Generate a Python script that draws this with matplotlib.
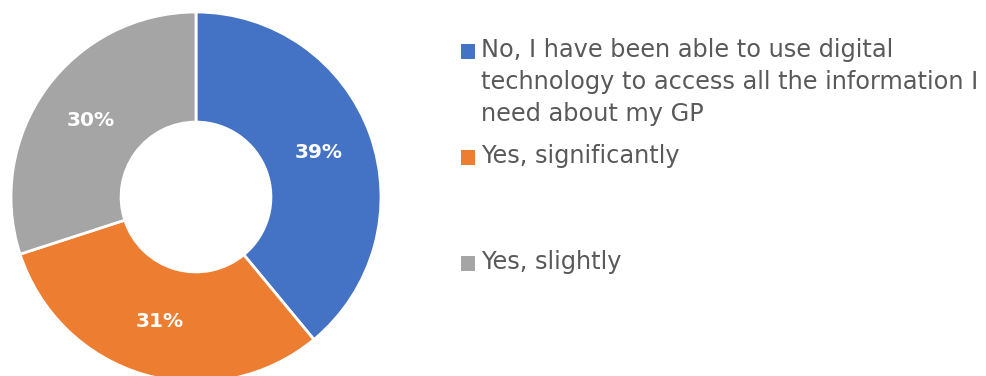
import matplotlib.pyplot as plt
from matplotlib.patches import Rectangle
import numpy as np

answers = ["No, I have been able to use digital\ntechnology to access all the information I\nneed about my GP",
           "Yes, significantly",
           "Yes, slightly"]
shares = [39, 31, 30]
colours = ["#4472C4", "#ED7D31", "#A5A5A5"]

W, H = 987, 376
fig = plt.figure(figsize=(W / 100, H / 100), dpi=100)

# donut: centre (196, 197) px from top-left, outer radius 185 px
cx, cy, r = 196, 197, 185
ax = fig.add_axes([(cx - r) / W, (H - cy - r) / H, 2 * r / W, 2 * r / H])
wedges, _ = ax.pie(shares, colors=colours, startangle=90, counterclock=False,
                   radius=1, wedgeprops=dict(width=0.595, edgecolor="white", linewidth=2))
ax.set_xlim(-1, 1)
ax.set_ylim(-1, 1)
ax.set_aspect("equal")
ax.axis("off")

for w, v in zip(wedges, shares):
    ang = np.deg2rad((w.theta1 + w.theta2) / 2)
    rr = 1 - 0.595 / 2
    ax.text(rr * np.cos(ang), rr * np.sin(ang), f"{v}%", ha="center", va="center",
            color="white", fontsize=14.5, fontweight="bold")

# legend, one entry every 106 px, marker next to first line
text_col = "#595959"
for i, (lab, c) in enumerate(zip(answers, colours)):
    yc = 51 + 106 * i
    fig.patches.append(Rectangle((461 / W, (H - yc - 7.5) / H), 14.5 / W, 14.5 / H,
                                 transform=fig.transFigure, facecolor=c, edgecolor="none"))
    fig.text(481 / W, (H - yc + 13) / H, lab, ha="left", va="top", color=text_col,
             fontsize=17.3, linespacing=1.42, transform=fig.transFigure)

fig.savefig("out.png", dpi=100)
